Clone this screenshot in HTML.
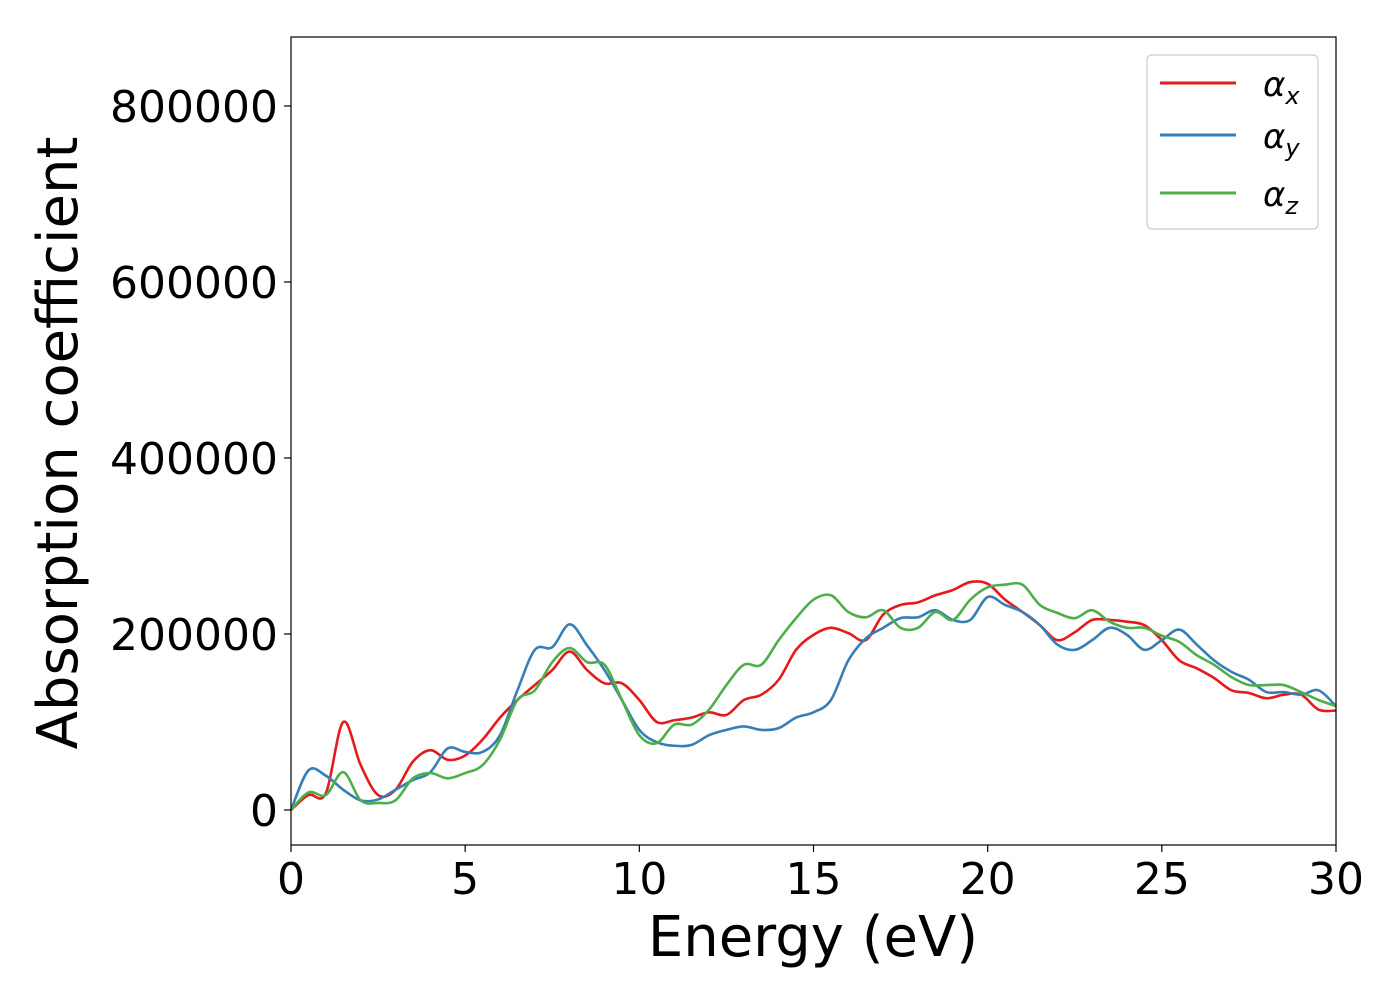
<!DOCTYPE html>
<html><head><meta charset="utf-8"><style>
body{margin:0;background:#fff;font-family:"Liberation Sans","DejaVu Sans",sans-serif;}
svg text{font-family:"DejaVu Sans","Liberation Sans",sans-serif;}
</style></head><body>
<svg id="chart" width="1400" height="1000" viewBox="0 0 1400 1000" xmlns="http://www.w3.org/2000/svg">
<rect width="1400" height="1000" fill="#fff"/>
<g id="series"></g>
<rect x="291" y="37" width="1045" height="808" fill="none" stroke="#000" stroke-width="1.2"/>
<g id="axes"></g>
<text x="813" y="956" font-size="56" text-anchor="middle">Energy (eV)</text>
<text transform="translate(77,443) rotate(-90)" font-size="56" text-anchor="middle">Absorption coefficient</text>
<g>
<rect x="1147" y="55" width="171" height="174" rx="5" fill="#fff" stroke="#ccc" stroke-width="1.2"/>
<g><line x1="1160" y1="83" x2="1236" y2="83" stroke="#e41a1c" stroke-width="3"/><text x="1263" y="96" font-size="34" font-style="italic">α<tspan font-size="24" dy="8">x</tspan></text></g>
<g><line x1="1160" y1="135" x2="1236" y2="135" stroke="#377eb8" stroke-width="3"/><text x="1263" y="148" font-size="34" font-style="italic">α<tspan font-size="24" dy="8">y</tspan></text></g>
<g><line x1="1160" y1="193" x2="1236" y2="193" stroke="#4daf4a" stroke-width="3"/><text x="1263" y="206" font-size="34" font-style="italic">α<tspan font-size="24" dy="8">z</tspan></text></g>
</g>
</svg>
<script>
const energies = [0,0.5,1,1.5,2,2.5,3,3.5,4,4.5,5,5.5,6,6.5,7,7.5,8,8.5,9,9.5,10,10.5,11,11.5,12,12.5,13,13.5,14,14.5,15,15.5,16,16.5,17,17.5,18,18.5,19,19.5,20,20.5,21,21.5,22,22.5,23,23.5,24,24.5,25,25.5,26,26.5,27,27.5,28,28.5,29,29.5,30];
const alphaX = [0,17,19,100,51,17,23,55,68,57,62,80,105,125,142,159,180,159,144,144,125,100,102,105,111,108,125,131,148,182,199,207,201,193,222,233,236,244,250,259,257,239,225,210,193,202,216,216,214,210,193,170,161,150,136,133,127,131,131,114,113];
const alphaY = [0,45,39,23,11,12,23,34,43,70,66,66,85,136,182,185,211,187,159,125,91,77,73,74,85,91,95,91,93,105,111,125,170,195,207,218,219,227,216,216,242,233,225,210,188,182,193,207,199,182,193,205,188,170,157,148,134,134,131,136,118];
const alphaZ = [0,20,17,43,11,8,11,36,42,36,42,51,80,125,136,168,184,168,165,125,85,76,97,97,114,142,165,165,193,218,239,244,225,219,227,207,207,225,216,239,253,256,256,233,224,218,227,214,207,207,198,191,176,165,151,142,142,142,134,125,118];
const xTicks = [0,5,10,15,20,25,30];
const yTicks = [0,200000,400000,600000,800000];
const X0=291,X1=1336,XMIN=0,XMAX=30;
const Y0=810,PX_PER=176/200000;
const sx=v=>X0+(v-XMIN)/(XMAX-XMIN)*(X1-X0);
const sy=v=>Y0-v*PX_PER;
const NS="http://www.w3.org/2000/svg";
const axes=document.getElementById('axes');
xTicks.forEach(t=>{
  const l=document.createElementNS(NS,'line');
  
  
  l.setAttribute('x1',sx(t));l.setAttribute('x2',sx(t));l.setAttribute('y1',845);l.setAttribute('y2',852);l.setAttribute('stroke','#000');l.setAttribute('stroke-width','1.2');
  axes.appendChild(l);
  const tx=document.createElementNS(NS,'text');
  
  
  tx.setAttribute('x',sx(t));tx.setAttribute('y',894);tx.setAttribute('font-size','44');tx.setAttribute('text-anchor','middle');
  tx.textContent=t;axes.appendChild(tx);
});
yTicks.forEach(t=>{
  const l=document.createElementNS(NS,'line');
  
  
  l.setAttribute('x1',284);l.setAttribute('x2',291);l.setAttribute('y1',sy(t));l.setAttribute('y2',sy(t));l.setAttribute('stroke','#000');l.setAttribute('stroke-width','1.2');
  axes.appendChild(l);
  const tx=document.createElementNS(NS,'text');
  
  
  tx.setAttribute('x',278);tx.setAttribute('y',sy(t)+16);tx.setAttribute('font-size','44');tx.setAttribute('text-anchor','end');
  tx.textContent=t;axes.appendChild(tx);
});
function pathFor(vals){
  const p=energies.map((e,i)=>[sx(e),sy(vals[i]*1000)]);
  let d='M'+p[0][0]+','+p[0][1];
  for(let i=0;i<p.length-1;i++){
    const a=p[i-1]||p[i],b=p[i],c=p[i+1],e=p[i+2]||c;
    const c1=[b[0]+(c[0]-a[0])/6,b[1]+(c[1]-a[1])/6];
    const c2=[c[0]-(e[0]-b[0])/6,c[1]-(e[1]-b[1])/6];
    d+=` C${c1[0]},${c1[1]} ${c2[0]},${c2[1]} ${c[0]},${c[1]}`;
  }
  return d;
}
const sg=document.getElementById('series');
[[alphaX,'#e41a1c','series-alpha-x'],[alphaY,'#377eb8','series-alpha-y'],[alphaZ,'#4daf4a','series-alpha-z']].forEach(([v,c,n])=>{
  const path=document.createElementNS(NS,'path');
  
  
  path.setAttribute('d',pathFor(v));path.setAttribute('fill','none');path.setAttribute('stroke',c);path.setAttribute('stroke-width','2.6');
  sg.appendChild(path);
});
</script>
</body></html>
